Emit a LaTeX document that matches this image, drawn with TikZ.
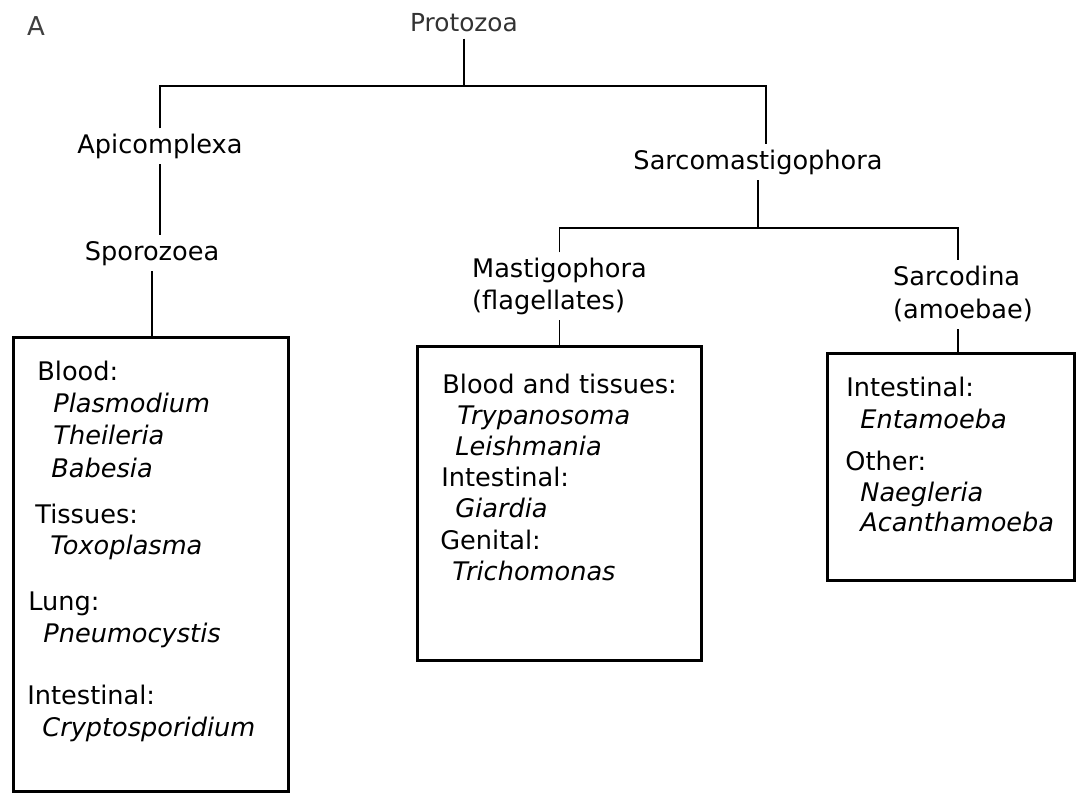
\documentclass[tikz,border=0pt]{standalone}
\usepackage{fontspec}
\setmainfont{DejaVu Sans}
\begin{document}
\begin{tikzpicture}[x=0.5pt,y=-0.5pt,
  taxon/.style={anchor=base, inner sep=2.4pt, text height=9.7pt, text depth=3.1pt,
                font=\fontsize{12.8}{15}\selectfont},
  taxonL/.style={taxon, anchor=base west},
  cat/.style={anchor=base west, inner sep=0pt, font=\fontsize{12.8}{15}\selectfont},
  gen/.style={cat, font=\fontsize{12.8}{15}\selectfont\itshape},
  panel/.style={draw, line width=1.3pt, inner sep=0pt, anchor=north west},
  tree/.style={line width=0.8pt}]

% page
\path[fill=white] (0,0) rectangle (1078,803);
\useasboundingbox (0,0) rectangle (1078,803);

% panel letter and root
\node[anchor=base, inner sep=0pt, text=black!75, font=\fontsize{13}{15}\selectfont] (tag) at (36,35) {A};
\node[taxon, inner sep=0pt, text=black!80, font=\fontsize{12.4}{15}\selectfont] (proto) at (464,32) {Protozoa};

% taxa
\node[taxon] (apic)   at (160,153) {Apicomplexa};
\node[taxon] (spor)   at (152,260) {Sporozoea};
\node[taxon] (sarcom) at (758,169) {Sarcomastigophora};
\node[taxonL] (mast)   at (467,277) {Mastigophora};
\node[taxonL] (flag)   at (467,309) {(flagellates)};
\node[taxonL] (sarcod) at (888,285) {Sarcodina};
\node[taxonL] (amoeb)  at (888,318) {(amoebae)};

% boxes
\node[panel, minimum width=137.5pt, minimum height=227pt]  (boxS) at (12,336) {};
\node[panel, minimum width=142pt,   minimum height=157pt]  (boxM) at (416,345) {};
\node[panel, minimum width=123.5pt, minimum height=113.5pt] (boxR) at (826,352) {};

% Sporozoea genera
\node[cat] (sBlood) at (37,380) {Blood:};
\node[gen] (sPlas)  at (53,412) {Plasmodium};
\node[gen] (sThei)  at (53,444) {Theileria};
\node[gen] (sBabe)  at (51,477) {Babesia};
\node[cat] (sTiss)  at (35,523) {Tissues:};
\node[gen] (sToxo)  at (50,554) {Toxoplasma};
\node[cat] (sLung)  at (28,610) {Lung:};
\node[gen] (sPneu)  at (43,642) {Pneumocystis};
\node[cat] (sInt)   at (27,704) {Intestinal:};
\node[gen] (sCryp)  at (42,736) {Cryptosporidium};

% flagellate genera
\node[cat] (mBT)   at (442,393) {Blood and tissues:};
\node[gen] (mTryp) at (457,424) {Trypanosoma};
\node[gen] (mLeis) at (455,455) {Leishmania};
\node[cat] (mInt)  at (441,486) {Intestinal:};
\node[gen] (mGiar) at (455,517) {Giardia};
\node[cat] (mGen)  at (440,549) {Genital:};
\node[gen] (mTric) at (452,580) {Trichomonas};

% amoeba genera
\node[cat] (rInt) at (846,396) {Intestinal:};
\node[gen] (rEnt) at (860,428) {Entamoeba};
\node[cat] (rOth) at (845,470) {Other:};
\node[gen] (rNae) at (860,501) {Naegleria};
\node[gen] (rAca) at (860,531) {Acanthamoeba};

% tree connectors
\coordinate (b1R) at (766,86);
\coordinate (b2R) at (958,228);
\draw[tree] (proto.south) -- (proto.south |- b1R);
\draw[tree] (apic.north) |- (b1R) -- (b1R |- sarcom.north);
\draw[tree] (apic.south) -- (apic.south |- spor.north);
\draw[tree] (spor.south) -- (spor.south |- boxS.north);
\draw[tree] (sarcom.south) -- (sarcom.south |- b2R);
\draw[tree] (mast.north) |- (b2R) -- (b2R |- sarcod.north);
\draw[tree] (flag.south -| mast.north) -- (mast.north |- boxM.north);
\draw[tree] (amoeb.south -| b2R) -- (b2R |- boxR.north);
\end{tikzpicture}
\end{document}
